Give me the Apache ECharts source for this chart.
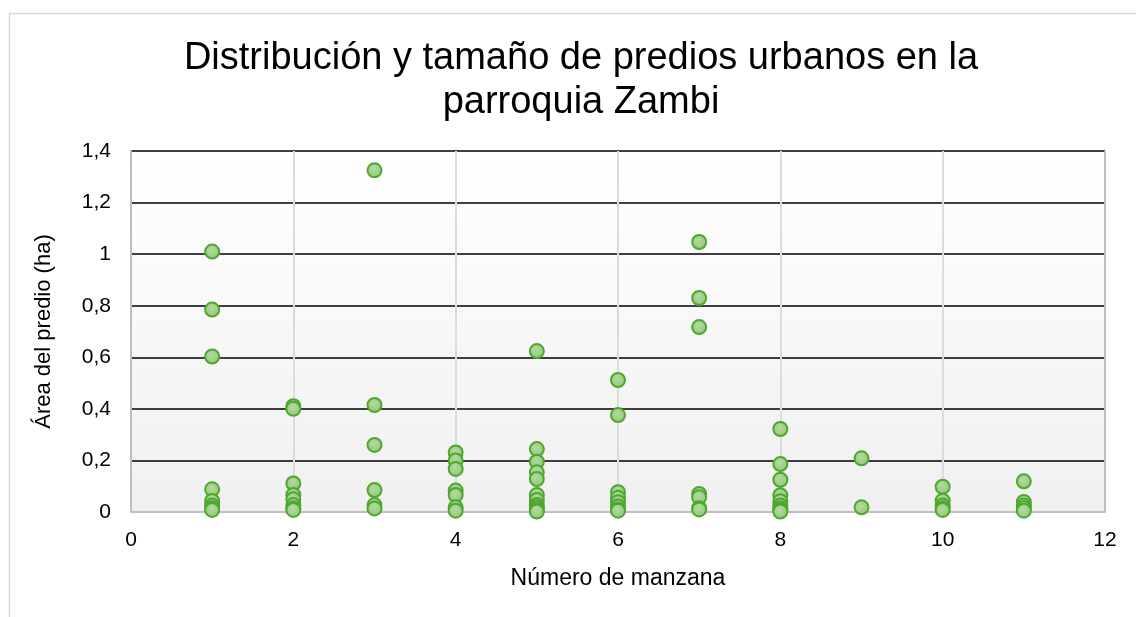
<!DOCTYPE html>
<html>
<head>
<meta charset="utf-8">
<script src="https://cdn.jsdelivr.net/npm/echarts@6/dist/echarts.min.js"></script>
<style>html,body{margin:0;padding:0;background:#fff;}#c{width:1136px;height:617px;}</style>
</head>
<body>
<div id="c"></div>
<script>
// Área del predio (ha) per número de manzana
const manzanas = [1, 2, 3, 4, 5, 6, 7, 8, 9, 10, 11];
const areas = [
  [1.01, 0.785, 0.603, 0.088, 0.043, 0.025, 0.015, 0.008],
  [0.41, 0.40, 0.111, 0.066, 0.049, 0.027, 0.015, 0.008],
  [1.325, 0.415, 0.26, 0.085, 0.027, 0.014],
  [0.231, 0.20, 0.167, 0.083, 0.066, 0.018, 0.005],
  [0.624, 0.244, 0.195, 0.154, 0.128, 0.066, 0.047, 0.027, 0.018, 0.01, 0.002],
  [0.512, 0.376, 0.077, 0.055, 0.038, 0.021, 0.01, 0.005],
  [1.047, 0.83, 0.717, 0.07, 0.057, 0.015, 0.01],
  [0.322, 0.186, 0.125, 0.065, 0.042, 0.025, 0.015, 0.008, 0.002],
  [0.208, 0.018],
  [0.098, 0.044, 0.025, 0.015, 0.008],
  [0.119, 0.039, 0.025, 0.015, 0.005]
];
const titleText = 'Distribución y tamaño de predios urbanos en la\nparroquia Zambi';
const xAxisName = 'Número de manzana';
const yAxisName = 'Área del predio (ha)';

const points = [];
manzanas.forEach((m, i) => areas[i].forEach(v => points.push([m, v])));

const chart = echarts.init(document.getElementById('c'), null, {renderer: 'canvas'});
const font = 'Liberation Sans, Arial, sans-serif';
chart.setOption({
  backgroundColor: '#ffffff',
  animation: false,
  graphic: [{
    type: 'rect', left: 7, top: 11, z: -10,
    shape: {width: 1140, height: 620},
    style: {fill: 'none', stroke: '#d9d9d9', lineWidth: 1.5}
  }],
  title: {
    text: titleText,
    left: 576, top: 32, textAlign: 'center',
    textStyle: {fontFamily: font, fontSize: 38, fontWeight: 'normal', color: '#000', lineHeight: 44}
  },
  grid: {
    left: 131, right: 31, top: 151, bottom: 105,
    show: true, borderWidth: 0,
    backgroundColor: new echarts.graphic.LinearGradient(0, 0, 0, 1, [
      {offset: 0, color: '#ffffff'}, {offset: 1, color: '#f0f0f0'}
    ])
  },
  xAxis: {
    type: 'value', min: 0, max: 12, interval: 2,
    name: xAxisName, nameLocation: 'middle', nameGap: 55,
    nameTextStyle: {fontFamily: font, fontSize: 23, color: '#000'},
    axisLine: {show: true, lineStyle: {color: '#bfbfbf', width: 2}},
    axisTick: {show: false},
    axisLabel: {fontFamily: font, fontSize: 21, color: '#000', margin: 18},
    splitLine: {show: true, lineStyle: {color: '#dcdcdc', width: 2}}
  },
  yAxis: {
    type: 'value', min: 0, max: 1.4, interval: 0.2,
    name: yAxisName, nameLocation: 'middle', nameGap: 76, nameRotate: 90,
    nameTextStyle: {fontFamily: font, fontSize: 22, color: '#000'},
    axisLine: {show: true, lineStyle: {color: '#bfbfbf', width: 2}},
    axisTick: {show: false},
    axisLabel: {
      fontFamily: font, fontSize: 21, color: '#000', margin: 20,
      formatter: v => (Math.round(v * 10) / 10).toString().replace('.', ',')
    },
    splitLine: {show: true, lineStyle: {color: '#000000', width: 1.5}}
  },
  series: [{
    type: 'scatter',
    data: points,
    symbol: 'circle',
    symbolSize: 14,
    itemStyle: {
      color: new echarts.graphic.RadialGradient(0.45, 0.4, 0.6, [
        {offset: 0, color: '#b3daa0'}, {offset: 1, color: '#90c877'}
      ]),
      borderColor: '#4ea72e', borderWidth: 2, opacity: 1
    }
  }, {
    // right border of the plot area
    type: 'line', data: [[12, 0], [12, 1.4]], symbol: 'none', silent: true,
    lineStyle: {color: '#bfbfbf', width: 2}, z: 1
  }]
});
</script>
</body>
</html>
